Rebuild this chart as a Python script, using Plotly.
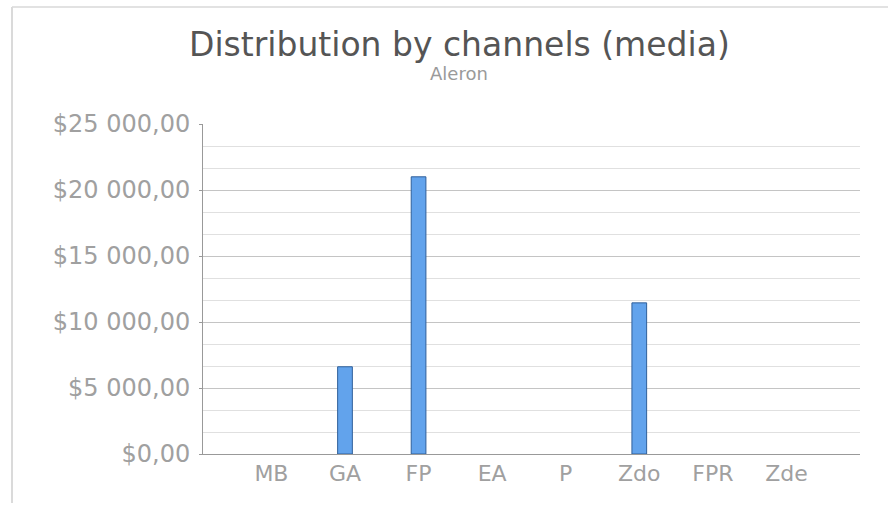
import plotly.graph_objects as go

categories = ["MB", "GA", "FP", "EA", "P", "Zdo", "FPR", "Zde"]
values = [0, 6610, 21000, 0, 0, 11450, 0, 0]
tick_vals = [0, 5000, 10000, 15000, 20000, 25000]
tick_text = ["$0,00", "$5 000,00", "$10 000,00", "$15 000,00", "$20 000,00", "$25 000,00"]

font_family = "DejaVu Sans, Verdana, sans-serif"
W, H = 888, 505
L, R, T, B = 203, 28, 124, 51
PW, PH = W - L - R, H - T - B

def px(x):
    return (x - L) / PW

def py(y):
    return (H - B - y) / PH

fig = go.Figure()
fig.add_trace(go.Bar(
    x=list(range(len(categories))),
    y=values,
    width=0.2,
    marker=dict(color="#62a3ec",
                line=dict(color="#2f5f9a", width=[1 if v > 0 else 0 for v in values])),
    hoverinfo="skip",
))

fig.update_layout(
    width=W, height=H,
    paper_bgcolor="white", plot_bgcolor="white",
    margin=dict(l=L, r=R, t=T, b=B),
    showlegend=False,
    font=dict(family=font_family),
    annotations=[
        dict(text="Distribution by channels (media)", xref="paper", yref="paper",
             x=px(459), y=py(44), xanchor="center", yanchor="middle", showarrow=False,
             font=dict(size=33, color="#555555", family=font_family)),
        dict(text="Aleron", xref="paper", yref="paper",
             x=px(459), y=py(74), xanchor="center", yanchor="middle", showarrow=False,
             font=dict(size=18, color="#9a9a9a", family=font_family)),
    ],
    xaxis=dict(
        range=[-0.93, 8.0],
        tickvals=list(range(len(categories))),
        ticktext=categories,
        showgrid=False, zeroline=False,
        showline=True, linecolor="#999999", linewidth=1,
        ticks="", tickfont=dict(size=22, color="#a0a0a0"),
        fixedrange=True,
    ),
    yaxis=dict(
        range=[0, 25000],
        tickvals=tick_vals, ticktext=tick_text,
        showgrid=True, gridcolor="#c4c4c4", gridwidth=1,
        zeroline=False,
        showline=True, linecolor="#999999", linewidth=1,
        ticks="outside", ticklen=3, tickcolor="#999999",
        ticklabelstandoff=4,
        tickfont=dict(size=24, color="#a0a0a0"),
        minor=dict(dtick=5000 / 3, tick0=0, showgrid=True, gridcolor="#e0e0e0", gridwidth=1),
        fixedrange=True,
    ),
    shapes=[
        dict(type="line", xref="paper", yref="paper", x0=px(12), x1=px(888),
             y0=py(7), y1=py(7), line=dict(color="#e2e2e2", width=2)),
        dict(type="line", xref="paper", yref="paper", x0=px(12), x1=px(12),
             y0=py(503), y1=py(7), line=dict(color="#dadada", width=2)),
    ],
)

fig.write_html("out.html", config={"displayModeBar": False},
               post_script="document.body.style.margin='0';")
